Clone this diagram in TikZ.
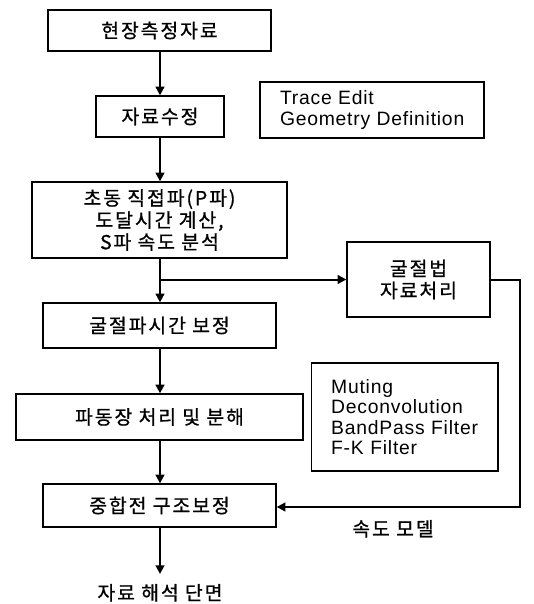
\documentclass[tikz,border=0pt]{standalone}
\usepackage{fontspec}
\setmainfont{Noto Sans CJK KR}[LetterSpace=10,FakeBold=0.8]
\newfontfamily\latinfont{Liberation Sans}[LetterSpace=4]
\usetikzlibrary{arrows.meta}
\begin{document}
\begin{tikzpicture}[x=0.75pt,y=-0.75pt,
  box/.style={draw, line width=1pt, inner sep=0pt, align=center,
    font=\fontsize{14.5}{16.5}\selectfont},
  listbox/.style={draw, line width=1pt, inner xsep=15pt, inner ysep=0pt, align=left,
    font=\latinfont\fontsize{14.5}{15.3}\selectfont},
  lbl/.style={inner sep=0pt, font=\fontsize{14.5}{16.5}\selectfont},
  arr/.style={line width=1.5pt, -{Triangle[length=6.5pt,width=6.5pt]}},
  link/.style={line width=1.5pt}]
\useasboundingbox (0,0) rectangle (533,604);
\node[box, minimum width=167.25pt, minimum height=30.75pt] (b1) at (159.5,30.5) {현장측정자료};
\node[box, minimum width=96pt, minimum height=30.75pt] (b2) at (160,116.5) {자료수정};
\node[listbox, text width=138pt, minimum height=42pt] (te) at (372,110) {Trace Edit\\Geometry Definition};
\node[box, minimum width=191.25pt, minimum height=57pt] (b3) at (159.5,220) {초동 직접파(P파)\\도달시간 계산,\\S파 속도 분석};
\node[box, minimum width=174.75pt, minimum height=33.75pt] (b4) at (159.5,325.5) {굴절파시간 보정};
\node[box, minimum width=107.25pt, minimum height=56.25pt] (b5) at (418.5,279.5) {굴절법\\자료처리};
\node[listbox, text width=110pt, minimum height=81pt] (mu) at (404.5,417) {Muting\\Deconvolution\\BandPass Filter\\F-K Filter};
\node[box, minimum width=215.25pt, minimum height=34.5pt] (b6) at (159.5,417) {파동장 처리 및 분해};
\node[box, minimum width=174.75pt, minimum height=32.25pt] (b7) at (159.5,505.5) {중합전 구조보정};
\node[lbl, anchor=base] (res) at (160,600) {자료 해석 단면};
\node[lbl, anchor=base] (vm) at (393,536) {속도 모델};
\coordinate (br) at (160,279.5);
\coordinate (c1) at (520,279.5);
\coordinate (c2) at (520,507);
\coordinate (endp) at (160,574);
\draw[arr] (b1.south -| 160,0) -- (b2.north -| 160,0);
\draw[arr] (b2.south -| 160,0) -- (b3.north -| 160,0);
\draw[arr] (b3.south -| 160,0) -- (b4.north -| 160,0);
\draw[arr] (br) -- (b5.west);
\draw[arr] (b4.south -| 160,0) -- (b6.north -| 160,0);
\draw[arr] (b6.south -| 160,0) -- (b7.north -| 160,0);
\draw[arr] (b7.south -| 160,0) -- (endp);
\draw[arr] (b5.east) -- (c1) -- (c2) -- (b7.east |- c2);
\end{tikzpicture}
\end{document}
